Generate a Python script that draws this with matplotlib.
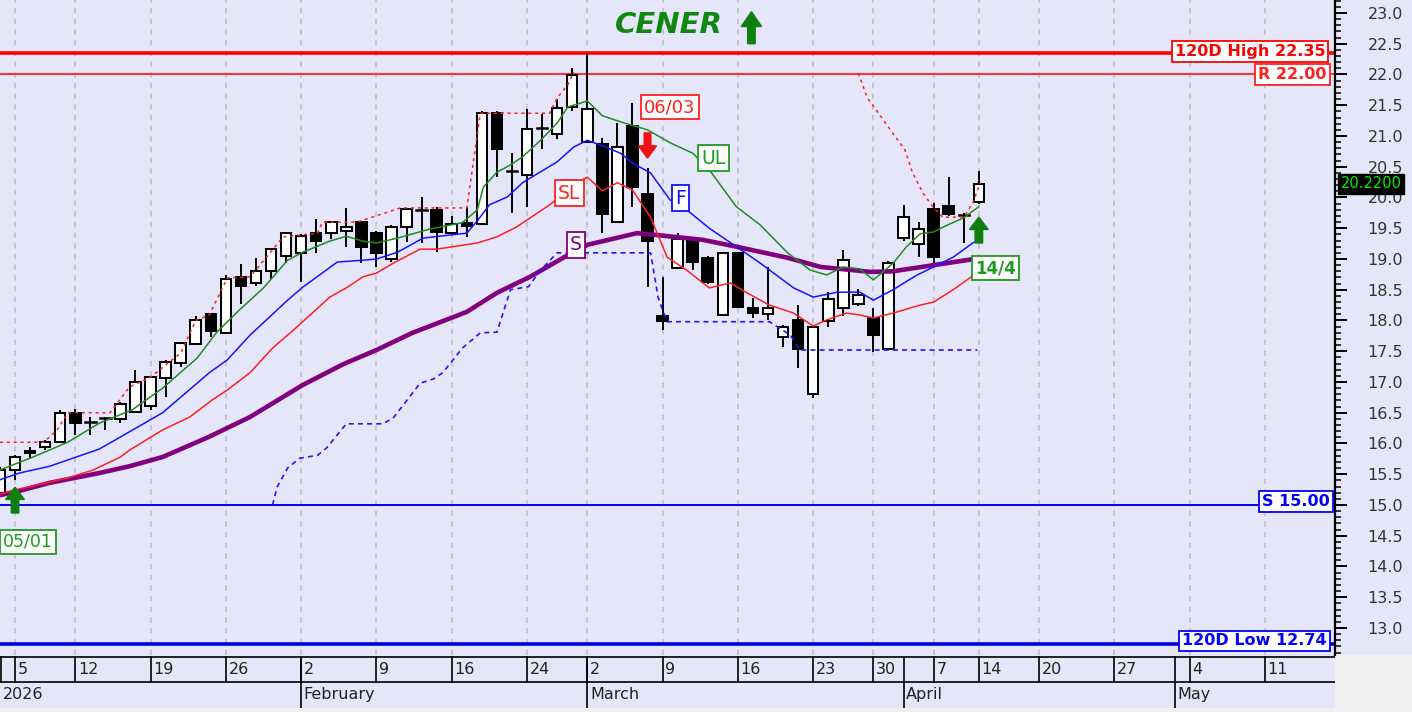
import matplotlib
matplotlib.use("Agg")
import matplotlib.pyplot as plt
from matplotlib.patches import Rectangle, FancyArrow
from matplotlib.ticker import MultipleLocator, FormatStrFormatter
import matplotlib.transforms as mtrans

plt.rcParams['font.family'] = ['DejaVu Sans']

# ---------------- data ----------------
day_index = list(range(-1, 65))
opens = [15.20, 15.57, 15.84, 15.94, 16.02, 16.50, 16.35, 16.41, 16.40, 16.51,
         16.61, 17.07, 17.31, 17.62, 18.10, 17.80, 18.71, 18.61, 18.80, 19.05,
         19.10, 19.42, 19.42, 19.45, 19.60, 19.42, 19.00, 19.52, 19.80, 19.80,
         19.42, 19.58, 19.57, 21.37, 20.43, 20.37, 21.13, 21.03, 21.47, 20.90,
         20.87, 19.60, 21.16, 20.06, 18.07, 18.85, 19.31, 19.02, 18.09, 19.10,
         18.20, 18.11, 17.73, 18.00, 16.80, 17.99, 18.20, 18.27, 18.04, 17.54,
         19.34, 19.24, 19.81, 19.86, 19.73, 19.93]
highs = [15.62, 15.81, 15.94, 16.05, 16.55, 16.56, 16.43, 16.43, 16.67, 17.20,
         17.10, 17.35, 17.64, 18.07, 18.12, 18.74, 18.92, 19.02, 19.18, 19.44,
         19.40, 19.65, 19.62, 19.83, 19.62, 19.45, 19.55, 19.83, 20.00, 19.85,
         19.70, 19.85, 21.40, 21.40, 20.72, 21.44, 21.35, 21.60, 22.10, 22.35,
         20.97, 21.21, 21.54, 20.48, 18.71, 19.43, 19.35, 19.05, 19.12, 19.12,
         18.37, 18.87, 17.93, 18.25, 17.93, 18.46, 19.15, 18.52, 18.20, 18.96,
         19.88, 19.60, 19.91, 20.33, 19.75, 20.43]
lows = [15.15, 15.41, 15.76, 15.90, 16.00, 16.14, 16.14, 16.22, 16.33, 16.49,
        16.55, 16.76, 17.25, 17.60, 17.73, 17.79, 18.27, 18.56, 18.67, 18.93,
        18.63, 19.10, 19.33, 19.20, 18.93, 18.87, 18.95, 19.28, 19.26, 19.12,
        19.40, 19.36, 19.55, 20.33, 19.75, 19.85, 20.79, 20.95, 21.40, 20.88,
        19.42, 19.58, 19.85, 18.54, 17.85, 18.83, 18.82, 18.60, 18.07, 18.20,
        18.04, 18.00, 17.57, 17.23, 16.74, 17.89, 18.07, 18.24, 17.49, 17.52,
        19.30, 19.03, 18.93, 19.70, 19.26, 19.90]
closes = [15.57, 15.78, 15.87, 16.02, 16.50, 16.33, 16.35, 16.41, 16.64, 17.00,
          17.08, 17.33, 17.63, 18.00, 17.83, 18.67, 18.56, 18.80, 19.16, 19.42,
          19.37, 19.29, 19.60, 19.52, 19.20, 19.10, 19.52, 19.81, 19.80, 19.44,
          19.57, 19.53, 21.37, 20.79, 20.43, 21.11, 21.13, 21.45, 21.99, 21.44,
          19.73, 20.82, 20.17, 19.29, 17.99, 19.33, 18.95, 18.63, 19.10, 18.22,
          18.12, 18.20, 17.89, 17.54, 17.89, 18.35, 18.98, 18.41, 17.76, 18.93,
          19.68, 19.49, 19.03, 19.73, 19.72, 20.22]

ul_x = [-1.0, 1.2, 3.5, 5.6, 7.8, 9.8, 12.1, 13.4, 14.9, 16.5, 18.1, 19.1, 20.9,
        22.0, 23.1, 24.0, 25.4, 27.6, 29.7, 30.7, 31.1, 32.0, 32.9, 33.7, 34.9,
        36.0, 36.7, 38.0, 39.0, 40.2, 42.0, 43.5, 45.0, 46.1, 47.9, 49.5, 51.3,
        52.8, 53.9, 55.0, 56.1, 57.0, 58.3, 59.2, 60.1, 61.0, 61.9, 63.0, 64.0]
ul_y = [15.57, 15.78, 16.02, 16.33, 16.55, 16.90, 17.39, 17.81, 18.17, 18.53,
        18.98, 19.11, 19.29, 19.37, 19.29, 19.26, 19.34, 19.49, 19.59, 19.80,
        20.17, 20.41, 20.53, 20.66, 20.93, 21.21, 21.47, 21.57, 21.33, 21.23,
        21.10, 20.89, 20.72, 20.45, 19.85, 19.55, 19.10, 18.82, 18.74, 18.87,
        18.84, 18.66, 18.93, 19.20, 19.41, 19.44, 19.55, 19.67, 19.85]

f_x = [-1.0, 0.3, 2.3, 5.6, 7.6, 9.8, 12.9, 14.1, 15.6, 18.1, 19.1, 21.4, 23.1,
       24.0, 25.4, 27.1, 30.0, 30.7, 31.5, 32.7, 33.7, 36.0, 37.1, 38.0, 39.0,
       40.2, 41.0, 42.2, 43.5, 44.6, 46.1, 47.9, 49.5, 51.7, 53.0, 54.6, 56.1,
       57.0, 58.3, 59.9, 61.0, 62.3, 63.6, 64.0]
f_y = [15.41, 15.52, 15.63, 15.91, 16.19, 16.50, 17.15, 17.36, 17.76, 18.33,
       18.54, 18.95, 18.98, 19.00, 19.11, 19.34, 19.42, 19.62, 19.88, 20.01,
       20.24, 20.58, 20.82, 20.93, 20.84, 20.72, 20.56, 20.40, 19.96, 19.80,
       19.50, 19.20, 18.93, 18.53, 18.38, 18.46, 18.46, 18.33, 18.50, 18.74,
       18.87, 19.03, 19.26, 19.31]

sl_x = [-1.0, 0.3, 3.5, 5.2, 7.0, 7.6, 9.8, 11.6, 13.1, 14.1, 15.6, 17.1, 18.7,
        20.9, 22.0, 23.1, 24.0, 25.1, 26.9, 28.0, 30.7, 32.0, 33.3, 35.5, 37.3,
        38.0, 39.0, 40.0, 41.0, 42.2, 43.3, 44.6, 46.1, 47.5, 48.6, 50.1, 51.7,
        53.0, 53.9, 55.2, 56.1, 57.0, 58.3, 60.1, 61.0, 62.3, 63.5, 64.0]
sl_y = [15.18, 15.26, 15.44, 15.57, 15.78, 15.89, 16.22, 16.43, 16.71, 16.87,
        17.15, 17.55, 17.89, 18.38, 18.53, 18.71, 18.77, 18.93, 19.16, 19.16,
        19.26, 19.36, 19.52, 19.88, 20.24, 20.33, 20.11, 20.24, 20.12, 19.68,
        19.03, 18.82, 18.53, 18.61, 18.45, 18.25, 18.12, 17.91, 18.01, 18.12,
        18.09, 18.04, 18.12, 18.25, 18.30, 18.50, 18.71, 18.78]

s_x = [-1.0, 0.3, 2.3, 5.6, 7.6, 9.8, 12.9, 15.6, 19.1, 21.8, 24.0, 26.4, 30.0,
       32.0, 34.2, 36.4, 38.0, 41.3, 42.6, 45.7, 47.9, 51.3, 53.5, 56.8, 58.3,
       61.0, 63.7]
s_y = [15.16, 15.23, 15.36, 15.52, 15.63, 15.78, 16.11, 16.43, 16.95, 17.29,
       17.52, 17.80, 18.14, 18.45, 18.71, 19.02, 19.23, 19.42, 19.39, 19.31,
       19.20, 19.02, 18.87, 18.79, 18.80, 18.90, 19.00]

upper_stop_x = [-1.0, 1.9, 2.8, 3.5, 6.3, 7.6, 9.0, 11.0, 12.0, 12.9, 14.1, 15.6,
                16.7, 17.8, 20.1, 20.4, 22.7, 25.6, 30.0, 30.9, 35.5, 36.0, 36.7,
                37.1, None, 56.0, 56.6, 59.1, 59.6, 60.3, 61.0, 61.6, 63.0, 63.6, 64.1]
upper_stop_y = [16.02, 16.02, 16.22, 16.50, 16.50, 16.92, 17.08, 17.47, 18.00,
                18.09, 18.69, 18.71, 19.03, 19.36, 19.42, 19.60, 19.60, 19.83,
                19.83, 21.37, 21.37, 21.62, 21.83, 22.04, None, 22.02, 21.62,
                20.77, 20.40, 20.07, 19.83, 19.68, 19.68, 19.91, 20.24]

lower_stop_x = [17.1, 17.4, 18.1, 18.9, 20.1, 20.7, 22.0, 24.4, 25.1, 26.9, 27.8,
                28.4, 29.7, 30.9, 32.0, 32.9, 34.1, 34.9, 36.0, 42.2, 42.4, 42.7,
                43.0, 43.3, 50.1, 51.5, 52.1, 63.9]
lower_stop_y = [15.00, 15.29, 15.60, 15.76, 15.81, 15.93, 16.32, 16.32, 16.41,
                16.98, 17.05, 17.15, 17.55, 17.80, 17.81, 18.50, 18.55, 18.82,
                19.10, 19.10, 18.82, 18.38, 18.17, 17.98, 17.98, 17.76, 17.52, 17.52]

level_values = [22.35, 22.00, 15.00, 12.74]
level_labels = ['120D High 22.35', 'R 22.00', 'S 15.00', '120D Low 12.74']
last_close = 20.22

day_tick_pos = [0, 4, 9, 14, 19, 24, 29, 34, 38, 43, 48, 53, 57, 61, 64, 68, 73, 78, 83]
day_tick_labels = ['5', '12', '19', '26', '2', '9', '16', '24', '2', '9', '16',
                   '23', '30', '7', '14', '20', '27', '4', '11']
month_pos = [19, 38, 59, 77]
month_labels = ['February', 'March', 'April', 'May']
year_label = '2026'

# ---------------- layout ----------------
W, H = 1412, 712
LAV = '#e6e6fa'
fig = plt.figure(figsize=(W / 100, H / 100), dpi=100)
fig.patch.set_facecolor(LAV)

XLIM = (-0.996, 87.65)
YLIM = (12.561, 23.211)

ax = fig.add_axes([0, 57 / H, 1335 / W, 655 / H])
ax.set_facecolor(LAV)
ax.set_xlim(*XLIM)
ax.set_ylim(*YLIM)

for sp in ['top', 'left', 'bottom']:
    ax.spines[sp].set_visible(False)
ax.spines['right'].set_linewidth(1.6)
ax.spines['right'].set_color('black')
ax.set_xticks([])
ax.yaxis.tick_right()
ax.yaxis.set_major_locator(MultipleLocator(0.5))
ax.yaxis.set_minor_locator(MultipleLocator(0.1))
ax.yaxis.set_major_formatter(FormatStrFormatter('%.1f'))
ax.tick_params(axis='y', which='major', length=8.5, width=1.4, pad=15,
               labelsize=11.5, labelcolor='#333333', direction='out')
ax.tick_params(axis='y', which='minor', length=4.3, width=1.1, direction='out')

# gridlines (weekly)
for p in day_tick_pos:
    ax.axvline(p, color='#bcbcbc', lw=1.1, ls=(0, (3.5, 3.5)), zorder=1)

# level lines
level_colors = ['#ff0000', '#ff3535', '#0000ff', '#0000e0']
level_widths = [2.6, 1.5, 1.4, 2.6]
for v, c, w in zip(level_values, level_colors, level_widths):
    ax.axhline(v, color=c, lw=w, zorder=2)

# candles
cw = 0.7
for i, o, h, l, c in zip(day_index, opens, highs, lows, closes):
    ax.plot([i, i], [l, h], color='black', lw=1.4, zorder=4, solid_capstyle='butt')
    lo, hi = min(o, c), max(o, c)
    fc = 'white' if c >= o else 'black'
    if hi - lo < 0.015:
        ax.plot([i - cw / 2, i + cw / 2], [c, c], color='black', lw=1.8, zorder=5)
    else:
        ax.add_patch(Rectangle((i - cw / 2, lo), cw, hi - lo, fc=fc, ec='black',
                               lw=1.45, zorder=5))

# indicator lines
ax.plot(s_x, s_y, color='#800080', lw=3.3, zorder=6, solid_capstyle='round')
ax.plot(sl_x, sl_y, color='#ff2020', lw=1.1, zorder=6)
ax.plot(f_x, f_y, color='#1515ff', lw=1.1, zorder=6)
ax.plot(ul_x, ul_y, color='#1e8c1e', lw=1.1, zorder=6)
ux = [float('nan') if v is None else v for v in upper_stop_x]
uy = [float('nan') if v is None else v for v in upper_stop_y]
ax.plot(ux, uy, color='#ff2020', lw=1.1, ls=(0, (2, 2.5)), zorder=6)
ax.plot(lower_stop_x, lower_stop_y, color='#1a1aff', lw=1.2, ls=(0, (3, 2.5)), zorder=6)


def boxed(x, y, s, color, size, weight='normal', ha='center', lw=1.3):
    ax.text(x, y, s, color=color, fontsize=size, fontweight=weight, ha=ha,
            va='center', zorder=12,
            bbox=dict(boxstyle='square,pad=0.18', fc='white', ec=color, lw=lw))


# level labels
boxed(87.0, 22.37, level_labels[0], '#ff0000', 11.5, 'bold', 'right')
boxed(87.1, 22.00, level_labels[1], '#ff2020', 11.5, 'bold', 'right')
boxed(87.3, 15.06, level_labels[2], '#0000ff', 11.5, 'bold', 'right')
boxed(87.1, 12.79, level_labels[3], '#0000ff', 11.5, 'bold', 'right')

# line labels
GREEN = '#1f9a1f'
boxed(46.35, 20.64, 'UL', GREEN, 13.5)
boxed(44.2, 19.99, 'F', '#1010ff', 13.5)
boxed(36.8, 20.07, 'SL', '#ff2020', 13.5)
boxed(37.25, 19.23, 'S', '#800080', 13.5)

# signal labels
boxed(43.5, 21.47, '06/03', '#ff2020', 13)
boxed(-0.78, 14.40, '05/01', GREEN, 12.5, ha='left')
boxed(65.1, 18.85, '14/4', GREEN, 12, 'bold')

# arrows
AG = '#0f7f0f'
ax.add_patch(FancyArrow(0, 14.87, 0, 0.42, width=0.5, head_width=1.25,
                        head_length=0.2, length_includes_head=True,
                        fc=AG, ec=AG, zorder=11))
ax.add_patch(FancyArrow(64, 19.26, 0, 0.42, width=0.5, head_width=1.25,
                        head_length=0.2, length_includes_head=True,
                        fc=AG, ec=AG, zorder=11))
ax.add_patch(FancyArrow(42, 21.05, 0, -0.41, width=0.45, head_width=1.2,
                        head_length=0.2, length_includes_head=True,
                        fc='#ee1111', ec='#ee1111', zorder=11))
ax.add_patch(FancyArrow(48.9, 22.50, 0, 0.52, width=0.5, head_width=1.35,
                        head_length=0.24, length_includes_head=True,
                        fc=AG, ec=AG, zorder=11, clip_on=False))

# title
ax.text(43.4, 22.80, 'CENER', color='#108810', fontsize=21, fontweight='bold',
        fontstyle='italic', ha='center', va='center', zorder=12)

# last price tag on the axis
tr = mtrans.blended_transform_factory(ax.transAxes, ax.transData)
ax.text(1.027, last_close, '20.2200', transform=tr, color='#00ee00', fontsize=10.5,
        ha='center', va='center', zorder=20, clip_on=False,
        bbox=dict(boxstyle='square,pad=0.2', fc='black', ec='black'))

# ---------------- date axis ----------------
axd = fig.add_axes([0, 4 / H, 1335 / W, 53 / H])
axd.set_facecolor(LAV)
axd.set_xlim(*XLIM)
axd.set_ylim(0, 1)
axd.axis('off')
TOP, MID = 0.962, 0.49
axd.plot([XLIM[0], XLIM[1]], [TOP, TOP], color='black', lw=1.2)
axd.plot([XLIM[0], XLIM[1]], [MID, MID], color='black', lw=1.2)
axd.plot([XLIM[0] + 0.05, XLIM[0] + 0.05], [MID, TOP], color='black', lw=1.2)
for p, lab in zip(day_tick_pos, day_tick_labels):
    axd.plot([p, p], [MID, TOP], color='black', lw=1.2)
    axd.text(p + 0.18, (MID + TOP) / 2, lab, fontsize=11.5, color='#222222',
             ha='left', va='center')
for p, lab in zip(month_pos, month_labels):
    axd.plot([p, p], [0, TOP], color='black', lw=1.2)
    axd.text(p + 0.18, MID / 2 + 0.01, lab, fontsize=11.5, color='#222222',
             ha='left', va='center')
axd.text(XLIM[0] + 0.2, MID / 2 + 0.01, year_label, fontsize=11.5, color='#222222',
         ha='left', va='center')

# grey corners
fig.add_artist(Rectangle((1335 / W, 0), (W - 1335) / W, 57 / H,
                         transform=fig.transFigure, fc='#f0f0f0', ec='none', zorder=-1))
fig.add_artist(Rectangle((0, 0), 1, 4 / H, transform=fig.transFigure,
                         fc='#f0f0f0', ec='none', zorder=-1))

fig.savefig('out.png', dpi=100, facecolor=fig.get_facecolor())
